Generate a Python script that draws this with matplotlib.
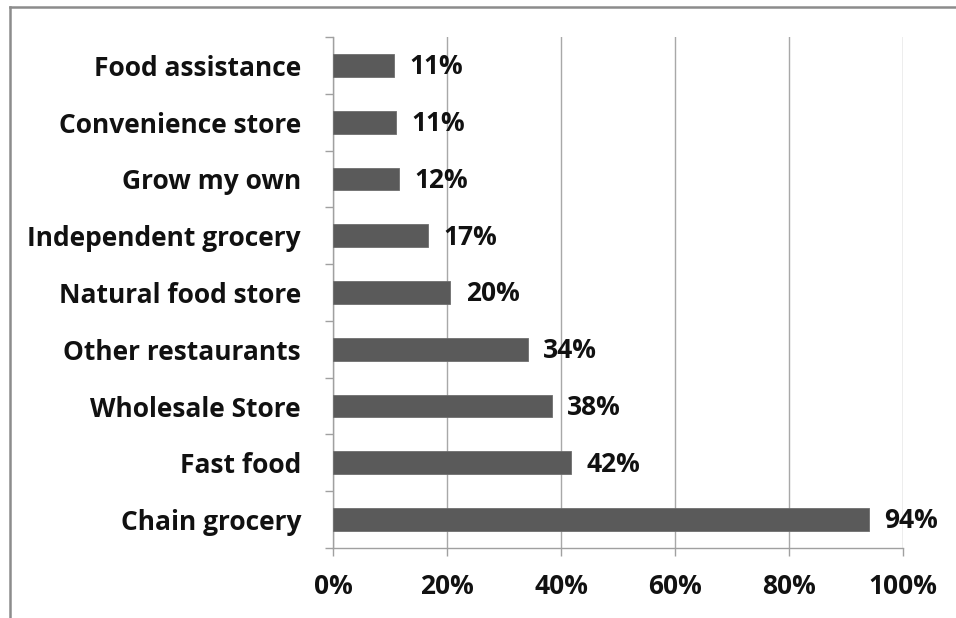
import matplotlib.pyplot as plt
from matplotlib.lines import Line2D
from matplotlib.ticker import FixedLocator

categories = ["Chain grocery", "Fast food", "Wholesale Store", "Other restaurants",
              "Natural food store", "Independent grocery", "Grow my own",
              "Convenience store", "Food assistance"]
values = [94.0, 41.8, 38.4, 34.2, 20.6, 16.7, 11.6, 11.1, 10.7]
value_labels = ["94%", "42%", "38%", "34%", "20%", "17%", "12%", "11%", "11%"]
x_ticks = [0, 20, 40, 60, 80, 100]
x_tick_labels = ["0%", "20%", "40%", "60%", "80%", "100%"]

plt.rcParams['font.family'] = ['Open Sans', 'DejaVu Sans']
plt.rcParams['font.weight'] = 'bold'

fig = plt.figure(figsize=(9.56, 6.18), dpi=100)
ax = fig.add_axes([0.3483, 0.1133, 0.5963, 0.8268])

pos = list(range(len(categories)))
ax.barh(pos, values, height=0.4, color="#5a5a5a", edgecolor="#6e6e6e",
        linewidth=0.6, zorder=3)

for y, v, lab in zip(pos, values, value_labels):
    ax.annotate(lab, (v, y), xytext=(11, -1), textcoords="offset points",
                va="center", ha="left", fontsize=19, fontweight="bold",
                color="#111111")

ax.set_xlim(0, 100)
ax.set_ylim(-0.5, len(categories) - 0.5)
ax.set_xticks(x_ticks)
ax.set_xticklabels(x_tick_labels)
ax.set_yticks(pos)
ax.set_yticklabels(categories)
ax.yaxis.set_minor_locator(FixedLocator([p - 0.5 for p in pos] + [len(pos) - 0.5]))

ax.tick_params(axis="y", which="major", length=0, pad=23, labelsize=19,
               labelcolor="#111111")
ax.tick_params(axis="y", which="minor", length=6, width=1, color="#a0a0a0")
ax.tick_params(axis="x", which="major", length=6, width=1, color="#a0a0a0",
               pad=12, labelsize=19, labelcolor="#111111")

ax.grid(axis="x", color="#a8a8a8", linewidth=1, zorder=0)
for side in ["top", "right"]:
    ax.spines[side].set_visible(False)
for side in ["left", "bottom"]:
    ax.spines[side].set_color("#a0a0a0")
    ax.spines[side].set_linewidth(1)

# outer chart frame (cropped)
fig.add_artist(Line2D([0.0105, 1.0], [0.988, 0.988], color="#8c8c8c",
                      linewidth=1.8, transform=fig.transFigure))
fig.add_artist(Line2D([0.0105, 0.0105], [0.0, 0.988], color="#8c8c8c",
                      linewidth=1.8, transform=fig.transFigure))

fig.savefig("out.png", dpi=100)
